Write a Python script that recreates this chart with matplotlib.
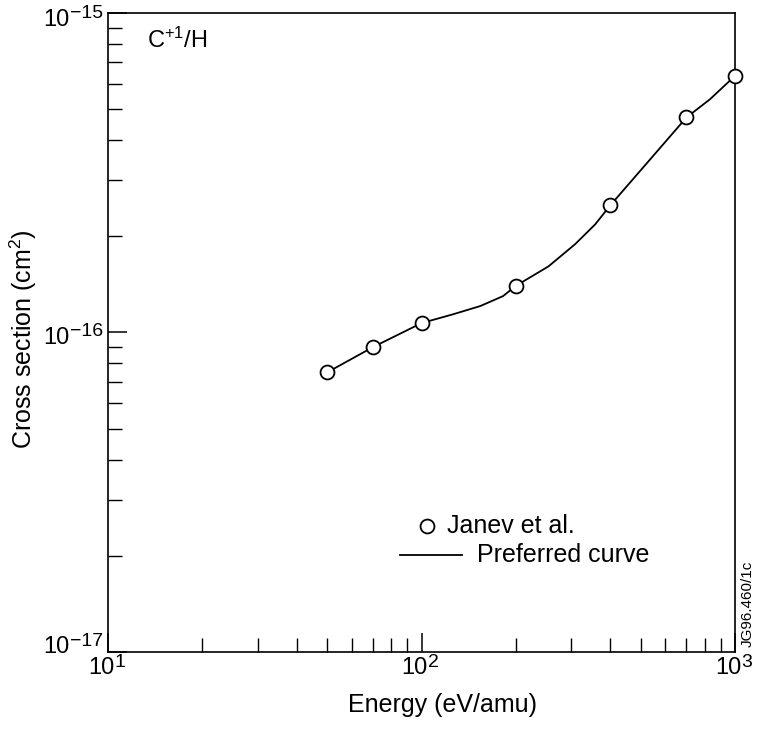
import numpy as np
import matplotlib
matplotlib.use('Agg')
import matplotlib.pyplot as plt
from matplotlib.ticker import LogLocator, NullFormatter

plt.rcParams['font.family'] = ['Liberation Sans', 'DejaVu Sans']
plt.rcParams['mathtext.fontset'] = 'custom'
plt.rcParams['mathtext.rm'] = 'Liberation Sans'
plt.rcParams['mathtext.it'] = 'Liberation Sans'

# Janev et al. data points
energy = [50, 70, 100, 200, 400, 700, 1000]
sigma = [7.5e-17, 9.0e-17, 1.07e-16, 1.40e-16, 2.5e-16, 4.71e-16, 6.36e-16]

# preferred curve
curve_e = [50, 70, 100, 126, 154, 182, 200, 254, 309, 358, 400, 529, 700, 832, 915, 1000]
curve_s = [7.5e-17, 9.0e-17, 1.07e-16, 1.14e-16, 1.21e-16, 1.30e-16, 1.40e-16, 1.61e-16,
           1.89e-16, 2.18e-16, 2.5e-16, 3.43e-16, 4.71e-16, 5.37e-16, 5.86e-16, 6.36e-16]

x_exps = [1, 2, 3]
y_exps = [-17, -16, -15]

fig = plt.figure(figsize=(7.57, 7.33), dpi=100)
ax = fig.add_axes([0.1427, 0.1105, 0.8283, 0.8718])

ax.plot(curve_e, curve_s, 'k-', lw=1.3, zorder=2)
ax.plot(energy, sigma, 'o', ms=10, mfc='white', mec='black', mew=1.3, zorder=3, clip_on=False)

ax.set_xscale('log')
ax.set_yscale('log')
ax.set_xlim(10, 1000)
ax.set_ylim(1e-17, 1e-15)

ax.xaxis.set_minor_locator(LogLocator(base=10, subs=np.arange(2, 10)))
ax.yaxis.set_minor_locator(LogLocator(base=10, subs=np.arange(2, 10)))
ax.xaxis.set_minor_formatter(NullFormatter())
ax.yaxis.set_minor_formatter(NullFormatter())

ax.set_xticks([10.0 ** e for e in x_exps])
ax.set_yticks([10.0 ** e for e in y_exps])
ax.set_xticklabels([])
ax.set_yticklabels([])

ax.tick_params(which='major', direction='in', length=14, width=1.1, top=False, right=False)
ax.tick_params(which='minor', direction='in', length=10, width=1.0, top=False, right=False)

for s in ax.spines.values():
    s.set_linewidth(1.2)

# tick labels: "10" with a large raised exponent (offsets in points)
px = 0.72
for e in x_exps:
    ax.annotate('10', xy=(10.0 ** e, 0), xycoords=('data', 'axes fraction'),
                xytext=(6 * px, -16 * px), textcoords='offset points',
                ha='right', va='center', fontsize=17)
    ax.annotate(str(e), xy=(10.0 ** e, 0), xycoords=('data', 'axes fraction'),
                xytext=(6 * px, -10 * px), textcoords='offset points',
                ha='left', va='center', fontsize=14)

y_shift = {-17: 6, -16: -4.5, -15: -6}
for e in y_exps:
    sup = ax.annotate('\u2212' + str(-e), xy=(0, 10.0 ** e), xycoords=('axes fraction', 'data'),
                      xytext=(-5 * px, (y_shift[e] + 5) * px), textcoords='offset points',
                      ha='right', va='center', fontsize=14)
    ax.annotate('10', xy=(0, 0.5), xycoords=sup,
                xytext=(0, -6 * px), textcoords='offset points',
                ha='right', va='center', fontsize=17)

ax.set_xlabel('Energy (eV/amu)', fontsize=18)
ax.set_ylabel(r'Cross section (cm$^2$)', fontsize=18)
ax.xaxis.set_label_coords(0.533, -0.083)
ax.yaxis.set_label_coords(-0.135, 0.49)
ax.xaxis.label.set_va('center')
ax.yaxis.label.set_va('center')

ax.text(0.062, 0.958, r'C$^{+1}$/H', transform=ax.transAxes, fontsize=17, va='center')

# legend
ax.plot([0.509], [0.197], 'o', ms=10, mfc='white', mec='black', mew=1.3,
        transform=ax.transAxes, clip_on=False)
ax.text(0.540, 0.197, 'Janev et al.', transform=ax.transAxes, fontsize=18, va='center')
ax.plot([0.465, 0.565], [0.152, 0.152], 'k-', lw=1.3, transform=ax.transAxes)
ax.text(0.588, 0.152, 'Preferred curve', transform=ax.transAxes, fontsize=18, va='center')

fig.text(0.988, 0.176, 'JG96.460/1c', rotation=90, fontsize=11, ha='center', va='center')

fig.savefig('out.png', dpi=100)
